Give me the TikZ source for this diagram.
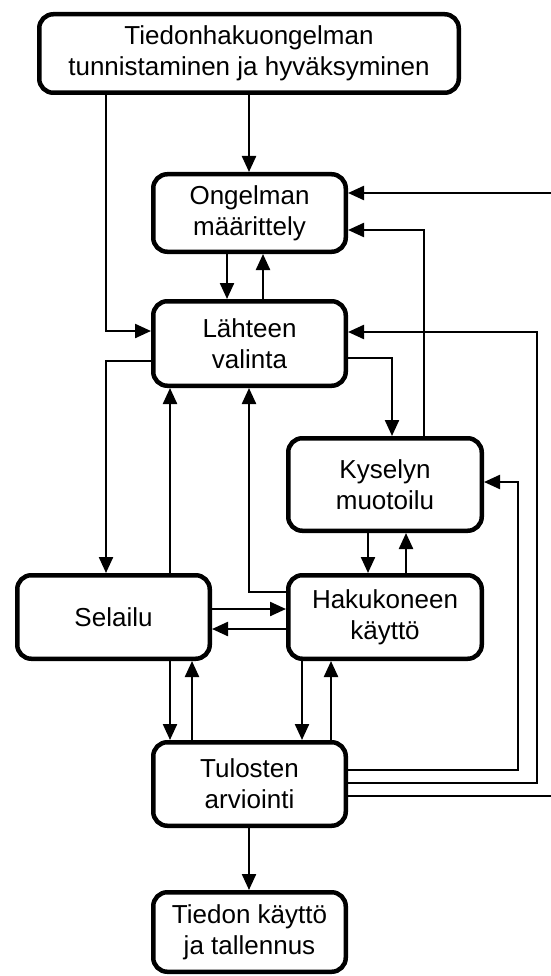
\documentclass[tikz,border=0pt]{standalone}
\usepackage{fontspec}
\setmainfont{Liberation Sans}
\usetikzlibrary{arrows.meta}
\begin{document}
\begin{tikzpicture}[x=1pt,y=-1pt,
  box/.style={draw, line width=4.5pt, rounded corners=14pt, align=center,
    font=\fontsize{26}{31}\selectfont, inner sep=0pt},
  arr/.style={line width=2.3pt, -{Triangle[length=16pt,width=14pt]}}]
\useasboundingbox (0,0) rectangle (550,976);
\node[box, minimum width=419.5pt, minimum height=78.5pt] (top) at (249,53.5) {Tiedonhakuongelman\\tunnistaminen ja hyväksyminen};
\node[box, minimum width=192.5pt, minimum height=77.5pt] (ong) at (249.5,213) {Ongelman\\määrittely};
\node[box, minimum width=192.5pt, minimum height=84.5pt] (lah) at (249.5,343.5) {Lähteen\\valinta};
\node[box, minimum width=193.5pt, minimum height=92.5pt] (kys) at (385,484.5) {Kyselyn\\muotoilu};
\node[box, minimum width=192.5pt, minimum height=83.5pt] (sel) at (113.5,617) {Selailu};
\node[box, minimum width=193.5pt, minimum height=83.5pt] (hak) at (385,617) {Hakukoneen\\käyttö};
\node[box, minimum width=192.5pt, minimum height=83.5pt] (tul) at (249.5,784) {Tulosten\\arviointi};
\node[box, minimum width=192.5pt, minimum height=79.5pt] (tie) at (249.5,932) {Tiedon käyttö\\ja tallennus};
% x positions
\coordinate (xa) at (106,0);
\coordinate (xb) at (170,0);
\coordinate (xc) at (192,0);
\coordinate (xd) at (227,0);
\coordinate (xe) at (263,0);
\coordinate (xf) at (249,0);
\coordinate (xg) at (302,0);
\coordinate (xh) at (331,0);
\coordinate (xi) at (368,0);
\coordinate (xj) at (406,0);
\coordinate (xk) at (392,0);
\coordinate (xl) at (424,0);
\coordinate (xm) at (518,0);
\coordinate (xn) at (537,0);
\coordinate (xo) at (556,0);
% y positions
\coordinate (ya) at (0,193);
\coordinate (yb) at (0,230);
\coordinate (yc) at (0,331);
\coordinate (yd) at (0,361);
\coordinate (ye) at (0,358);
\coordinate (yf) at (0,332);
\coordinate (yg) at (0,482);
\coordinate (yh) at (0,592);
\coordinate (yi) at (0,609);
\coordinate (yj) at (0,629);
\coordinate (yk) at (0,770);
\coordinate (yl) at (0,783);
\coordinate (ym) at (0,796);
% connectors
\draw[arr] (top.south -| xf) -- (ong.north -| xf);
\draw[arr] (top.south -| xa) |- (lah.west |- yc);
\draw[arr] (lah.west |- yd) -| (sel.north -| xa);
\draw[arr] (ong.south -| xd) -- (lah.north -| xd);
\draw[arr] (lah.north -| xe) -- (ong.south -| xe);
\draw[arr] (sel.north -| xb) -- (lah.south -| xb);
\draw[arr] (hak.west |- yh) -| (lah.south -| xf);
\draw[arr] (lah.east |- ye) -| (kys.north -| xk);
\draw[arr] (kys.north -| xl) |- (ong.east |- yb);
\draw[arr] (kys.south -| xi) -- (hak.north -| xi);
\draw[arr] (hak.north -| xj) -- (kys.south -| xj);
\draw[arr] (sel.east |- yi) -- (hak.west |- yi);
\draw[arr] (hak.west |- yj) -- (sel.east |- yj);
\draw[arr] (sel.south -| xb) -- (tul.north -| xb);
\draw[arr] (tul.north -| xc) -- (sel.south -| xc);
\draw[arr] (hak.south -| xg) -- (tul.north -| xg);
\draw[arr] (tul.north -| xh) -- (hak.south -| xh);
\draw[arr] (tul.east |- yk) -| (xm |- yg) -- (kys.east |- yg);
\draw[arr] (tul.east |- yl) -| (xn |- yf) -- (lah.east |- yf);
\draw[arr] (tul.east |- ym) -| (xo |- ya) -- (ong.east |- ya);
\draw[arr] (tul.south -| xf) -- (tie.north -| xf);
\end{tikzpicture}
\end{document}
